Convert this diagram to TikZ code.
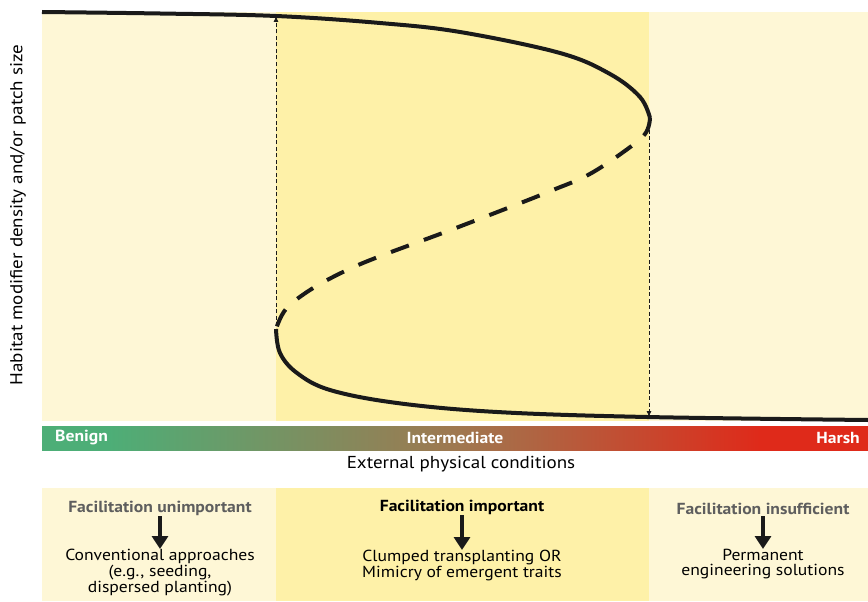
\documentclass[tikz,border=0pt]{standalone}
\usepackage{fontspec}
\setmainfont{PT Sans}[FakeStretch=1.1]
\usetikzlibrary{arrows.meta}
\definecolor{lightbg}{HTML}{FEF7D6}
\definecolor{midbg}{HTML}{FEF1A8}
\definecolor{cgreen}{HTML}{4DAE77}
\definecolor{cbrown}{HTML}{A0774F}
\definecolor{cred}{HTML}{DF2A1A}
\definecolor{curve}{HTML}{1A1A1A}
\definecolor{hgray}{HTML}{5E5E5E}
\pgfdeclarehorizontalshading{condbar}{100bp}{color(0bp)=(cgreen); color(29bp)=(cgreen); color(50.3bp)=(cbrown); color(68.5bp)=(cred); color(100bp)=(cred)}
\tikzset{
  branch/.style={draw=curve, line width=4pt},
  unstable/.style={draw=curve, line width=4pt, dash pattern=on 19pt off 16pt},
  jump/.style={draw=curve, line width=0.8pt, dash pattern=on 4pt off 2.5pt, -{Latex[length=6pt,width=5pt]}},
  bigarrow/.style={draw=curve, line width=4.5pt, -{Triangle[length=13pt,width=16pt]}},
  barlabel/.style={text=white, font=\fontsize{16}{18}\selectfont\bfseries, inner sep=0pt},
  head/.style={font=\fontsize{16}{18}\selectfont\bfseries, inner sep=0pt, align=center},
  body/.style={font=\fontsize{16}{14.5}\selectfont, inner sep=0pt, align=center},
}
\begin{document}
\begin{tikzpicture}[x=1pt,y=-1pt]
\useasboundingbox (0,0) rectangle (868,602);
% plot background
\fill[lightbg] (42,12) rectangle (276,421);
\fill[midbg] (276,12) rectangle (649,421);
\fill[lightbg] (649,12) rectangle (868,421);
% gradient bar
\shade[shading=condbar] (42,426) rectangle (868,450);
\node[barlabel, anchor=west] (benign) at (55,438) {Benign};
\node[barlabel] (inter) at (455,438) {Intermediate};
\node[barlabel, anchor=east] (harsh) at (860,438) {Harsh};
\node[font=\fontsize{17.3}{19}\selectfont, inner sep=0pt] (xlabel) at (461,464) {External physical conditions};
\node[font=\fontsize{17.3}{19}\selectfont, inner sep=0pt, rotate=90] (ylabel) at (18,215) {Habitat modifier density and/or patch size};
% coordinates
\coordinate (upperknee) at (276,16);
\coordinate (upperturn) at (649,121);
\coordinate (lowerturn) at (276,329);
\coordinate (lowerknee) at (649,417);
% curves
\draw[branch] plot[smooth, tension=0.6] coordinates {(42,12) (160,13.5) (276,16) (380,23) (460,32) (560,53) (610,74) (640,97) (650,118)};
\draw[unstable] plot[smooth, tension=0.6] coordinates {(650,118) (645,134) (622,153) (588,175) (553,190) (518,204) (448,231) (378,257) (343,272) (310,290) (286,309) (276,329)};
\draw[branch] plot[smooth, tension=0.6] coordinates {(276,329) (280,353) (297,373) (330,390) (397,403) (497,412) (647,417) (868,420)};
% jumps
\draw[jump] (276,326) -- (upperknee);
\draw[jump] (649,123) -- (lowerknee);
% bottom boxes
\fill[lightbg] (42,488) rectangle (276,601);
\fill[midbg] (276,488) rectangle (649,601);
\fill[lightbg] (649,488) rectangle (868,601);
\node[head, text=hgray] (h1) at (160,508) {Facilitation unimportant};
\node[head, text=black] (h2) at (462,507) {Facilitation important};
\node[head, text=hgray] (h3) at (763,509) {Facilitation insufficient};
\node[body, anchor=north] (b1) at (160,549) {Conventional approaches\\(e.g., seeding,\\dispersed planting)};
\node[body, anchor=north] (b2) at (462,550) {Clumped transplanting OR\\Mimicry of emergent traits};
\node[body, anchor=north] (b3) at (763,549) {Permanent\\engineering solutions};
\draw[bigarrow] (h1.south) ++(0,1) -- (b1.north);
\draw[bigarrow] (h2.south) ++(0,1) -- (b2.north);
\draw[bigarrow] (h3.south) ++(0,1) -- (b3.north);
\end{tikzpicture}
\end{document}
